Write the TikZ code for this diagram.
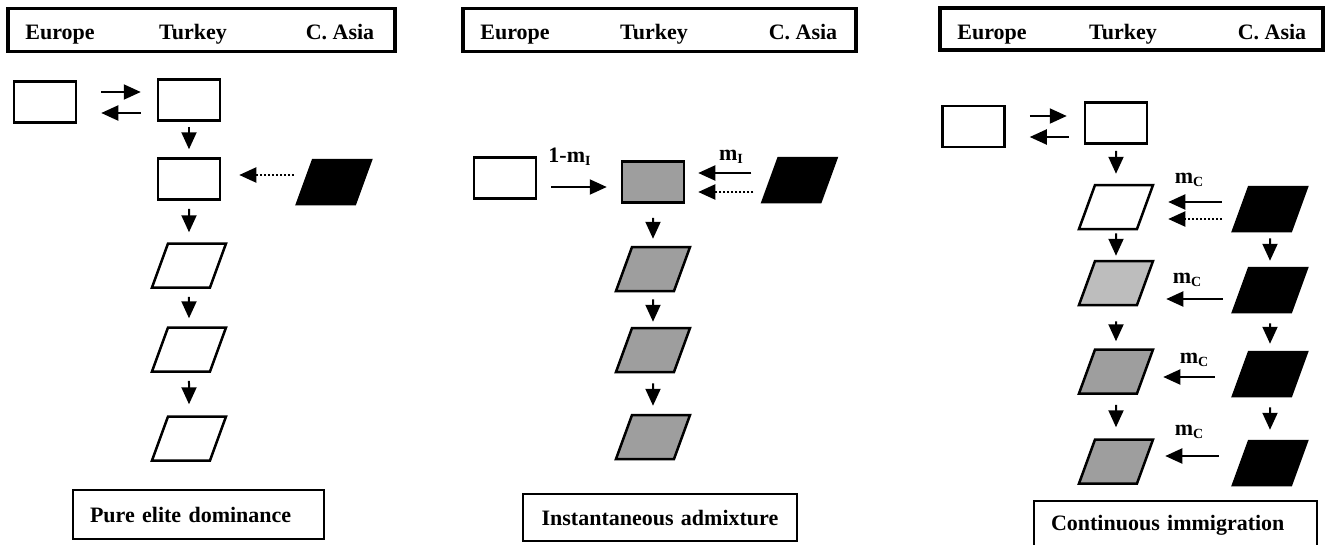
\documentclass[tikz,border=0pt]{standalone}
\usepackage{fontspec}
\setmainfont{Liberation Serif}
\usetikzlibrary{arrows.meta}

\begin{document}
\begin{tikzpicture}[x=1pt,y=-1pt,
		txt/.style={font=\fontsize{22}{26}\selectfont\bfseries, inner sep=0pt, anchor=base},
		head/.style={draw, line width=3.5pt, minimum height=43pt, inner sep=0pt},
		note/.style={draw, line width=2.5pt, inner xsep=17pt, inner ysep=0pt, minimum height=48pt, font=\fontsize{22}{26}\selectfont\bfseries},
		pop/.style={draw, line width=2.5pt, minimum width=62pt, minimum height=41pt, inner sep=0pt},
		para/.style={draw, line width=2.5pt, xslant=0.364, minimum width=58pt, minimum height=44pt, inner sep=0pt},
		flow/.style={line width=2pt, -{Triangle[length=17pt,width=15pt]}},
		vflow/.style 2 args={flow, shorten <=#1pt, shorten >=#2pt},
		hflow/.style 2 args={flow, shorten <=#1pt, shorten >=#2pt},
		dflow/.style 2 args={flow, dash pattern=on 2pt off 2pt, shorten <=#1pt, shorten >=#2pt}]
		\definecolor{mixgray}{gray}{0.62}
		\definecolor{palegray}{gray}{0.74}
		\useasboundingbox (0,0) rectangle (1325,544);

		% pure elite dominance
		\node[head, minimum width=387pt] (hd1) at (201.5,30) {};
		\node[txt] (hd1eu) at (60,39) {Europe};
		\node[txt] (hd1tk) at (193,39) {Turkey};
		\node[txt] (hd1ca) at (340,39) {C. Asia};
		\node[pop] (eu1) at (45,102) {};
		\node[pop] (tk1a) at (189,100) {};
		\node[pop] (tk1b) at (189,179) {};
		\node[para, fill=black] (ca1) at (334,182) {};
		\node[para] (tk1c) at (189,265.5) {};
		\node[para] (tk1d) at (189,349.5) {};
		\node[para] (tk1e) at (189,438.5) {};
		\draw[hflow={24}{16}] ([yshift=10pt]eu1.east) -- ([yshift=8pt]tk1a.west);
		\draw[hflow={16}{24}] ([yshift=-13pt]tk1a.west) -- ([yshift=-11pt]eu1.east);
		\draw[dflow={10}{18}] ([yshift=7pt]ca1.west) -- ([yshift=4pt]tk1b.east);
		\draw[vflow={5}{8}] (tk1a) -- (tk1b);
		\draw[vflow={8}{10}] (tk1b) -- (tk1c);
		\draw[vflow={8}{8}] (tk1c) -- (tk1d);
		\draw[vflow={8}{11}] (tk1d) -- (tk1e);
		\node[note, minimum height=49pt, text width=217pt, align=left] (cap1) at (198.5,514.5) {Pure elite dominance};

		% instantaneous admixture
		\node[head, minimum width=393pt] (hd2) at (659.5,30) {};
		\node[txt] (hd2eu) at (515,39) {Europe};
		\node[txt] (hd2tk) at (654,39) {Turkey};
		\node[txt] (hd2ca) at (803,39) {C. Asia};
		\node[pop] (eu2) at (505,178) {};
		\node[pop, fill=mixgray] (tk2a) at (653,182) {};
		\node[para, fill=black] (ca2) at (799.5,180) {};
		\node[para, fill=mixgray] (tk2b) at (653,269) {};
		\node[para, fill=mixgray] (tk2c) at (653,350) {};
		\node[para, fill=mixgray] (tk2d) at (653,437) {};
		\node[txt] (mi2a) at (569.5,162) {1-m\raisebox{-3pt}{\fontsize{14}{14}\selectfont I}};
		\node[txt] (mi2b) at (731,160) {m\raisebox{-3pt}{\fontsize{14}{14}\selectfont I}};
		\draw[hflow={14}{14}] ([yshift=-9pt]eu2.east) -- ([yshift=-5pt]tk2a.west);
		\draw[hflow={18}{13}] ([yshift=7pt]ca2.west) -- ([yshift=9pt]tk2a.east);
		\draw[dflow={16}{13}] ([yshift=-12pt]ca2.west) -- ([yshift=-10pt]tk2a.east);
		\draw[vflow={14}{7}] (tk2a) -- (tk2b);
		\draw[vflow={7}{5}] (tk2b) -- (tk2c);
		\draw[vflow={10}{8}] (tk2c) -- (tk2d);
		\node[note, minimum height=47pt, text width=240pt, align=center] (cap2) at (660,517.5) {Instantaneous admixture};

		% continuous immigration
		\node[head, minimum width=383pt, minimum height=42pt] (hd3) at (1131.5,29) {};
		\node[txt] (hd3eu) at (992,39) {Europe};
		\node[txt] (hd3tk) at (1123,39) {Turkey};
		\node[txt] (hd3ca) at (1272,39) {C. Asia};
		\node[pop] (eu3) at (973.5,126.5) {};
		\node[pop] (tk3a) at (1116,123) {};
		\node[para] (tk3b) at (1116,207) {};
		\node[para, fill=palegray] (tk3c) at (1116,283) {};
		\node[para, fill=mixgray] (tk3d) at (1116,371.5) {};
		\node[para, fill=mixgray] (tk3e) at (1116,461.5) {};
		\node[para, fill=black] (ca3a) at (1270,209) {};
		\node[para, fill=black] (ca3b) at (1270,290) {};
		\node[para, fill=black] (ca3c) at (1270,374) {};
		\node[para, fill=black] (ca3d) at (1270,463) {};
		\node[txt] (mc3a) at (1189,183) {m\raisebox{-3pt}{\fontsize{14}{14}\selectfont C}};
		\node[txt] (mc3b) at (1187,283) {m\raisebox{-3pt}{\fontsize{14}{14}\selectfont C}};
		\node[txt] (mc3c) at (1194,363) {m\raisebox{-3pt}{\fontsize{14}{14}\selectfont C}};
		\node[txt] (mc3d) at (1189,435) {m\raisebox{-3pt}{\fontsize{14}{14}\selectfont C}};
		\draw[hflow={24}{17}] ([yshift=10.5pt]eu3.east) -- ([yshift=7pt]tk3a.west);
		\draw[hflow={15}{24}] ([yshift=-14pt]tk3a.west) -- ([yshift=-10.5pt]eu3.east);
		\draw[hflow={18}{22}] ([yshift=7pt]ca3a.west) -- ([yshift=5pt]tk3b.east);
		\draw[dflow={18}{22}] ([yshift=-10pt]ca3a.west) -- ([yshift=-12pt]tk3b.east);
		\draw[hflow={17}{20}] ([yshift=-9pt]ca3b.west) -- ([yshift=-16pt]tk3c.east);
		\draw[hflow={25}{17}] ([yshift=-3pt]ca3c.west) -- ([yshift=-5.5pt]tk3d.east);
		\draw[hflow={21}{19}] ([yshift=7pt]ca3d.west) -- ([yshift=5.5pt]tk3e.east);
		\draw[vflow={6}{10}] (tk3a) -- (tk3b);
		\draw[vflow={3}{4}] (tk3b) -- (tk3c);
		\draw[vflow={15}{7}] (tk3c) -- (tk3d);
		\draw[vflow={10}{11}] (tk3d) -- (tk3e);
		\draw[vflow={6}{6}] (ca3a) -- (ca3b);
		\draw[vflow={10}{7}] (ca3b) -- (ca3c);
		\draw[vflow={10}{10}] (ca3c) -- (ca3d);
		\node[note, text width=249pt, align=left] (cap3) at (1175.5,525) {Continuous immigration};
	\end{tikzpicture}
\end{document}
